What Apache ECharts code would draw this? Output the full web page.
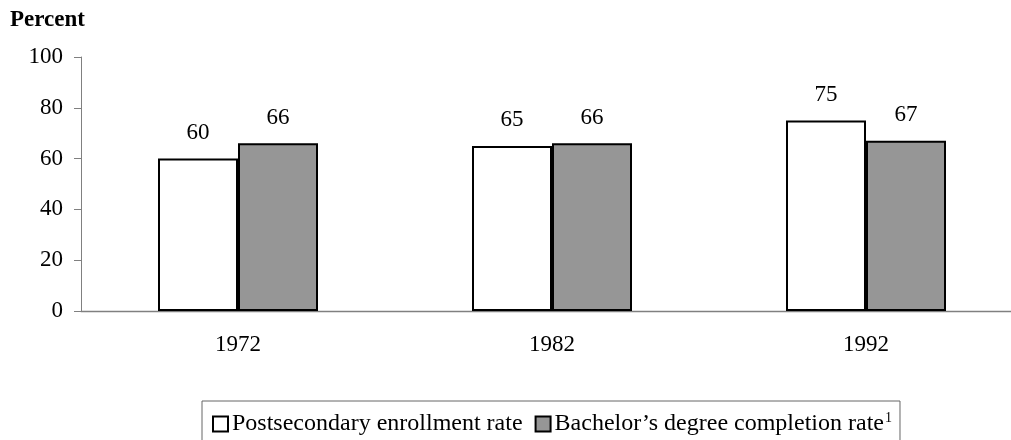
<!DOCTYPE html>
<html><head><meta charset="utf-8">
<script src="https://cdn.jsdelivr.net/npm/echarts@6/dist/echarts.min.js"></script>
<style>html,body{margin:0;padding:0;background:#fff;overflow:hidden;width:1011px;height:440px}#c{width:1023px;height:440px}</style>
</head><body><div id="c"></div>
<script>
var categories = ['1972', '1982', '1992'];
var enrollment = [60, 65, 75];
var completion = [66, 66, 67];
var seriesNames = ['Postsecondary enrollment rate', 'Bachelor\u2019s degree completion rate'];
var yTicks = [0, 20, 40, 60, 80, 100];

var font = '"Liberation Serif", "Times New Roman", serif';
var chart = echarts.init(document.getElementById('c'), null, {renderer: 'canvas'});
chart.setOption({
  animation: false,
  textStyle: {fontFamily: font},
  title: {text: 'Percent', left: 10, top: 9, padding: 0,
    textStyle: {fontFamily: font, fontWeight: 'bold', fontSize: 23, color: '#000'}},
  grid: {left: 81, right: 0, top: 57, bottom: 129, containLabel: false},
  legend: {
    left: 202, top: 401, icon: 'rect', itemWidth: 15, itemHeight: 15, itemGap: 12,
    borderColor: '#666', borderWidth: 1, padding: [10, 8, 10, 10],
    textStyle: {fontFamily: font, fontSize: 24, color: '#000', padding: [0, 0, 0, -1],
      rich: {sup: {fontFamily: font, fontSize: 14, verticalAlign: 'top', padding: [0, 0, 12, 1], color: '#000'}}},
    formatter: function (n) { return n === seriesNames[1] ? n + '{sup|1}' : n; },
    itemStyle: {borderColor: '#000', borderWidth: 2},
    data: seriesNames
  },
  xAxis: {
    type: 'category', data: categories,
    axisLine: {lineStyle: {color: '#808080', width: 1.3}},
    axisTick: {show: false},
    axisLabel: {margin: 22, fontFamily: font, fontSize: 23, color: '#000'}
  },
  yAxis: {
    type: 'value', min: 0, max: 100, interval: 20,
    axisLine: {show: true, lineStyle: {color: '#808080', width: 1}},
    axisTick: {show: true, length: 7, lineStyle: {color: '#808080'}},
    splitLine: {show: false},
    axisLabel: {margin: 18, fontFamily: font, fontSize: 23, color: '#000',
      formatter: function (v) { return yTicks.indexOf(v) >= 0 ? String(v) : ''; }}
  },
  series: [
    {name: seriesNames[0], type: 'bar', data: enrollment, barWidth: 80, barGap: '0%',
     itemStyle: {color: '#ffffff', borderColor: '#000', borderWidth: 2},
     label: {show: true, position: 'top', distance: 14, fontFamily: font, fontSize: 23, color: '#000'}},
    {name: seriesNames[1], type: 'bar', data: completion, barWidth: 80,
     itemStyle: {color: '#969696', borderColor: '#000', borderWidth: 2},
     label: {show: true, position: 'top', distance: 14, fontFamily: font, fontSize: 23, color: '#000'}}
  ]
});
</script></body></html>
